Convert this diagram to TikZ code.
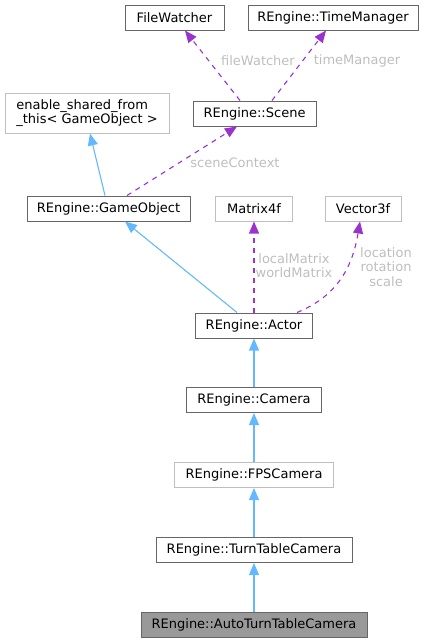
\documentclass[tikz,border=0pt]{standalone}
\usepackage{fontspec}
\setmainfont{DejaVu Sans}
\usetikzlibrary{arrows.meta,positioning}
\definecolor{edgeblue}{RGB}{99,184,255}
\definecolor{edgepurple}{RGB}{154,50,205}
\definecolor{darkframe}{RGB}{102,102,102}
\definecolor{lightframe}{RGB}{191,191,191}
\definecolor{labelgrey}{RGB}{190,190,190}
\definecolor{currentfill}{RGB}{153,153,153}

\begin{document}
\begin{tikzpicture}[x=1pt,y=-1pt,>={Triangle[length=12pt,width=10pt]}]
\tikzstyle{classbox}=[draw=darkframe,line width=1pt,fill=white,minimum height=25pt,inner sep=2pt,font=\fontsize{13}{14.5}\selectfont]
\tikzstyle{extbox}=[classbox,draw=lightframe]
\tikzstyle{inherit}=[->,edgeblue,line width=1.1pt]
\tikzstyle{usage}=[->,edgepurple,line width=1.1pt,dash pattern=on 5pt off 5pt]
\tikzstyle{memberlabel}=[text=labelgrey,align=center,font=\fontsize{13}{14.5}\selectfont,inner sep=1pt]
\useasboundingbox (0,0) rectangle (427,643);
% classes
\node[classbox,minimum width=99pt] (fw) at (174.5,17.5) {FileWatcher};
\node[classbox,minimum width=170pt] (tm) at (333,17.5) {REngine::TimeManager};
\node[extbox,minimum width=164pt,minimum height=40pt,align=left] (esft) at (87,113) {enable\_shared\_from\\\_this< GameObject >};
\node[classbox,minimum width=123pt] (scene) at (254.5,113.5) {REngine::Scene};
\node[classbox,minimum width=163pt] (go) at (108.5,208.5) {REngine::GameObject};
\node[extbox,minimum width=77pt] (mat) at (254,208.5) {Matrix4f};
\node[extbox,minimum width=76pt] (vec) at (363,208.5) {Vector3f};
\node[classbox,minimum width=117pt] (actor) at (254,325.5) {REngine::Actor};
\node[classbox,minimum width=135pt] (cam) at (254,400) {REngine::Camera};
\node[extbox,minimum width=159pt] (fps) at (254,475) {REngine::FPSCamera};
\node[classbox,minimum width=196pt] (ttc) at (254,550) {REngine::TurnTableCamera};
\node[classbox,fill=currentfill,minimum width=226pt] (attc) at (254,624.5) {REngine::AutoTurnTableCamera};
% inheritance
\draw[inherit] (go.north -| 105,0) -- (esft.south -| 90,0);
\draw[inherit] (actor.north -| 237,0) -- (go.south -| 125,0);
\draw[inherit] (cam) -- (actor);
\draw[inherit] (fps) -- (cam);
\draw[inherit] (ttc) -- (fps);
\draw[inherit] (attc) -- (ttc);
% members
\draw[usage] (scene.north -| 240,0) -- (fw.south -| 185,0);
\draw[usage] (scene.north -| 272,0) -- (tm.south -| 326,0);
\draw[usage] (go.north -| 127,0) -- (scene.south -| 237,0);
\draw[usage] (actor) -- (mat);
\draw[usage] (actor.north -| 297,0) .. controls (335,297) and (352,270) .. (vec.south -| 360,0);
\node[memberlabel] (lfw) at (258,61) {fileWatcher};
\node[memberlabel] (ltm) at (357,61) {timeManager};
\node[memberlabel] (lsc) at (235,163) {sceneContext};
\node[memberlabel] (lmat) at (294,265.5) {localMatrix\\worldMatrix};
\node[memberlabel] (lvec) at (386,267) {location\\rotation\\scale};
\end{tikzpicture}
\end{document}
